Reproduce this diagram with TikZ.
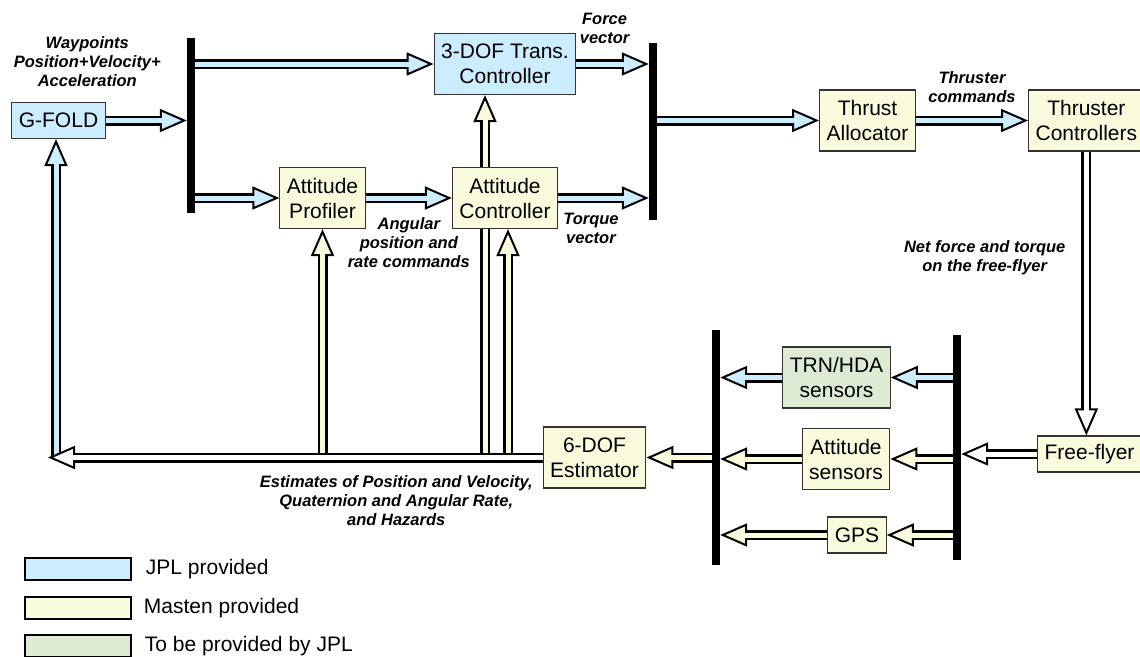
\documentclass[tikz,border=0pt]{standalone}
\usepackage{fontspec}
\setmainfont{Liberation Sans}
\usetikzlibrary{calc, positioning, arrows.meta, backgrounds}

\definecolor{jplblue}{RGB}{204,236,255}
\definecolor{mastenyel}{RGB}{250,250,220}
\definecolor{tbdgreen}{RGB}{221,235,212}

\newcommand{\boxfont}{\fontsize{21}{25}\selectfont}
\newcommand{\lblfont}{\fontsize{16.5}{19}\selectfont\bfseries\itshape}

\tikzset{
  blk/.style={draw=black!80, line width=1.2pt, rectangle, align=center, font=\boxfont, inner xsep=7pt, inner ysep=0pt, minimum height=61pt},
  blk1/.style={blk, minimum height=36pt},
  bar/.style={fill=black, rectangle, inner sep=0pt, minimum width=8pt},
  lbl/.style={align=center, font=\lblfont, inner sep=0pt},
  pipe/.style={line width=10pt, draw=black, -{Triangle[length=27pt, width=23pt, line width=2pt, fill=#1]}, postaction={draw=#1, line width=5pt, arrows=-, shorten >=20pt}},
  swatch/.style={draw=black, line width=1.5pt, minimum width=106pt, minimum height=22pt, inner sep=0pt},
  keytext/.style={font=\boxfont, inner sep=0pt, anchor=west}
}

\begin{document}
\begin{tikzpicture}[x=1pt, y=-1pt]
  \useasboundingbox (0,0) rectangle (1140,656);
  % blocks and buses
  \node[blk1, fill=jplblue] (gfold) at (58.5,120.5) {G-FOLD};
  \node[bar, minimum height=175pt] (bar1) at (191,125.5) {};
  \node[blk, fill=jplblue] (dof3) at (505,64) {3-DOF Trans.\\Controller};
  \node[blk, fill=mastenyel] (prof) at (322.5,198) {Attitude\\Profiler};
  \node[blk, fill=mastenyel] (actl) at (505,198) {Attitude\\Controller};
  \node[bar, minimum height=177pt] (bar2) at (653,131.5) {};
  \node[blk, fill=mastenyel] (alloc) at (867.5,120.5) {Thrust\\Allocator};
  \node[blk, fill=mastenyel, anchor=west] (thctl) at (1028,120.5) {Thruster\\Controllers};
  \node[blk1, fill=mastenyel, anchor=west] (flyer) at (1037,454) {Free-flyer};
  \node[bar, minimum height=235pt] (bar3) at (716,447.5) {};
  \node[bar, minimum height=225pt] (bar4) at (957,447.5) {};
  \node[blk, fill=tbdgreen] (trn) at (836.5,377.5) {TRN/HDA\\sensors};
  \node[blk, fill=mastenyel] (attsen) at (846,459) {Attitude\\sensors};
  \node[blk1, fill=mastenyel] (gps) at (857,535) {GPS};
  \node[blk, fill=mastenyel] (est) at (594.5,457.5) {6-DOF\\Estimator};

  \coordinate (bus) at (0,452.5);
  \coordinate (fbl) at (48,457.5);
  \coordinate (fb) at (56,457);
  \coordinate (tapdof) at (485,452.5);
  \coordinate (tapact) at (508,452.5);

  % forward path
  \draw[pipe=jplblue] (gfold.east) -- (gfold.east -| bar1.west) node[lbl, midway, shift={(-59pt,58.5pt)}] (wplbl) {Waypoints\\Position+Velocity+\\Acceleration};
  \draw[pipe=jplblue] (bar1.east |- dof3) -- (dof3.west);
  \draw[pipe=jplblue] (bar1.east |- prof) -- (prof.west);
  \draw[pipe=jplblue] (prof.east) -- (actl.west) node[lbl, midway, yshift=-45pt] (anglbl) {Angular\\position and\\rate commands};
  \draw[pipe=jplblue] (dof3.east) -- (dof3.east -| bar2.west) node[lbl, midway, shift={(-8pt,36pt)}] (forcelbl) {Force\\vector};
  \draw[pipe=jplblue] (actl.east) -- (actl.east -| bar2.west) node[lbl, midway, shift={(-12.5pt,-30pt)}] (torquelbl) {Torque\\vector};
  \draw[pipe=jplblue] (bar2.east |- alloc) -- (alloc.west);
  \draw[pipe=jplblue] (alloc.east) -- (thctl.west) node[lbl, midway, yshift=33.5pt] (cmdlbl) {Thruster\\commands};
  \draw[pipe=white] (thctl.south) -- (thctl.south |- flyer.north) node[lbl, midway, anchor=east, shift={(-16pt,35.5pt)}] (netlbl) {Net force and torque\\on the free-flyer};

  % sensors
  \draw[pipe=white] (flyer.west) -- (flyer.west -| bar4.east);
  \draw[pipe=jplblue] (bar4.west |- trn) -- (trn.east);
  \draw[pipe=jplblue] (trn.west) -- (trn.west -| bar3.east);
  \draw[pipe=mastenyel] (bar4.west |- attsen) -- (attsen.east);
  \draw[pipe=mastenyel] (attsen.west) -- (attsen.west -| bar3.east);
  \draw[pipe=mastenyel] (bar4.west |- gps) -- (gps.east);
  \draw[pipe=mastenyel] (gps.west) -- (gps.west -| bar3.east);
  \draw[pipe=mastenyel] (bar3.west |- est) -- (est.east);

  % feedback
  \begin{scope}[on background layer]
    \draw[pipe=mastenyel] (tapdof) -- (tapdof |- dof3.south);
  \end{scope}
  \draw[pipe=mastenyel] (prof.south |- bus) -- (prof.south);
  \draw[pipe=mastenyel] (tapact) -- (tapact |- actl.south);
  \draw[pipe=jplblue] (fb) -- (fb |- gfold.south);
  \draw[pipe=white] (est.west) -- (fbl) node[lbl, midway, shift={(101pt,-43.5pt)}] (estlbl) {Estimates of Position and Velocity,\\Quaternion and Angular Rate,\\and Hazards};

  % legend
  \node[swatch, fill=jplblue] (keyjpl) at (78,569) {};
  \node[swatch, fill=mastenyel] (keymst) at (78,608) {};
  \node[swatch, fill=tbdgreen] (keytbd) at (78,646) {};
  \node[keytext, right=14pt of keyjpl] (txtjpl) {JPL provided};
  \node[keytext, right=12pt of keymst] (txtmst) {Masten provided};
  \node[keytext, right=13pt of keytbd] (txttbd) {To be provided by JPL};
\end{tikzpicture}
\end{document}
